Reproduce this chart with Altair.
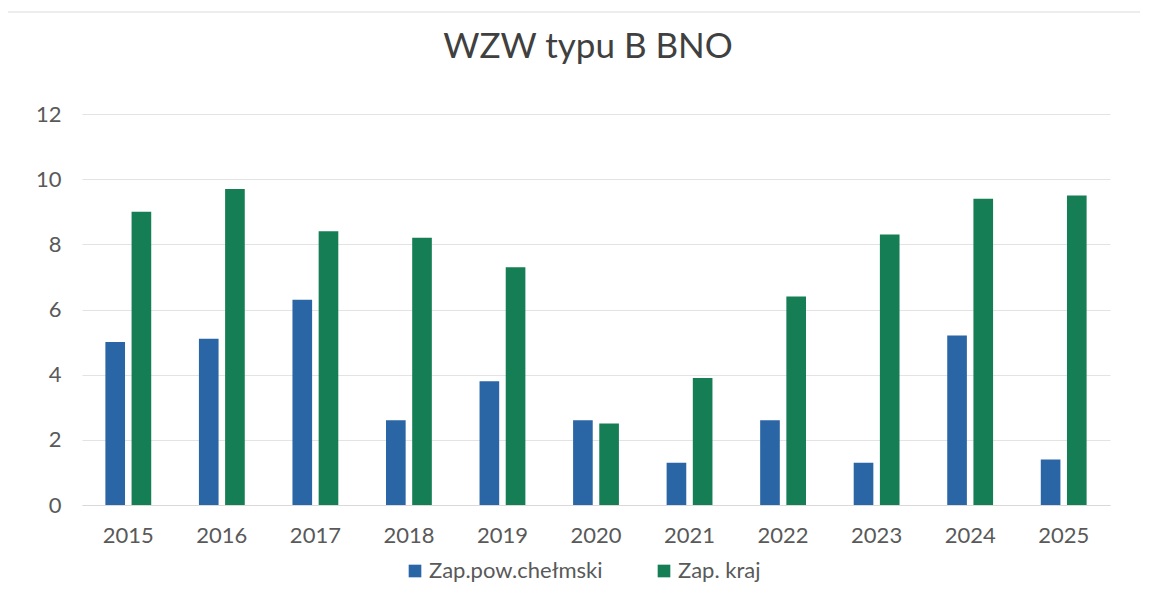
import altair as alt
import pandas as pd

years = ["2015", "2016", "2017", "2018", "2019", "2020", "2021", "2022", "2023", "2024", "2025"]
powiat = [5.0, 5.1, 6.3, 2.6, 3.8, 2.6, 1.3, 2.6, 1.3, 5.2, 1.4]
kraj = [9.0, 9.7, 8.4, 8.2, 7.3, 2.5, 3.9, 6.4, 8.3, 9.4, 9.5]
series = ["Zap.pow.chełmski", "Zap. kraj"]
colors = ["#2A65A5", "#157E54"]
title_text = ["WZW typu B BNO"]

rows = []
for i, y in enumerate(years):
    rows.append({"rok": y, "seria": series[0], "wartosc": powiat[i]})
    rows.append({"rok": y, "seria": series[1], "wartosc": kraj[i]})
df = pd.DataFrame(rows)

FONT = "Lato"
TXT = "#595959"

bars = alt.Chart(df).mark_bar().encode(
    x=alt.X("rok:N", sort=years, title=None,
            scale=alt.Scale(paddingInner=0.51, paddingOuter=0.25),
            axis=alt.Axis(labelAngle=0, labelFontSize=22, labelColor=TXT,
                          labelFont=FONT, ticks=False, domainColor="#D9D9D9",
                          labelPadding=20, grid=False)),
    xOffset=alt.XOffset("seria:N", sort=series, scale=alt.Scale(paddingInner=0.25)),
    y=alt.Y("wartosc:Q", title=None,
            scale=alt.Scale(domain=[0, 12]),
            axis=alt.Axis(values=[0, 2, 4, 6, 8, 10, 12], labelFontSize=22,
                          labelColor=TXT, labelFont=FONT, ticks=False,
                          domain=False, gridColor="#E3E3E3", labelPadding=21)),
    color=alt.Color("seria:N", sort=series,
                    scale=alt.Scale(domain=series, range=colors),
                    legend=alt.Legend(title=None, orient="none", direction="horizontal",
                                      legendX=322, legendY=446, symbolType="square",
                                      symbolSize=160, labelFontSize=22, labelFont=FONT,
                                      labelColor=TXT, columnPadding=50, labelLimit=400,
                                      symbolStrokeWidth=0, labelOffset=3)),
)

frame_top = alt.Chart(df).mark_rule(color="#ECECEC", strokeWidth=1).encode(
    x=alt.value(-76), x2=alt.value(1070), y=alt.value(-102)
)
frame_left = alt.Chart(df).mark_rule(color="#ECECEC", strokeWidth=1).encode(
    x=alt.value(-76), y=alt.value(-102), y2=alt.value(480)
)

title = alt.Chart(pd.DataFrame({"t": title_text})).mark_text(
    font=FONT, fontSize=35, color="#404040", align="center", baseline="alphabetic"
).encode(text="t:N", x=alt.value(506), y=alt.value(-56))

chart = alt.layer(frame_top, frame_left, bars, title).properties(
    width=1028,
    height=391,
    autosize=alt.AutoSizeParams(type="none"),
    padding={"left": 74, "top": 106, "right": 30, "bottom": 80},
).configure_view(stroke=None)

chart.save("out.html", embed_options={"renderer": "svg", "actions": False})
